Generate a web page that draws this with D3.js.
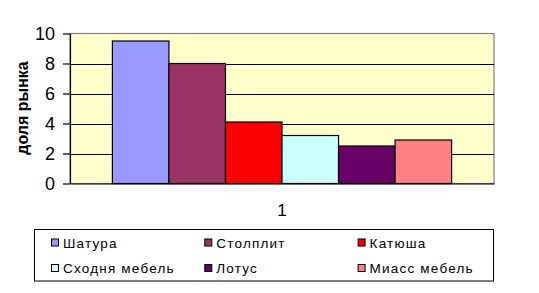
<!DOCTYPE html>
<html>
<head>
<meta charset="utf-8">
<script src="https://cdn.jsdelivr.net/npm/d3@7"></script>
<style>
  body { margin: 0; background: #fff; }
  text { font-family: "Liberation Sans", Arial, sans-serif; fill: #000; }
</style>
</head>
<body>
<svg id="chart" width="539" height="293"></svg>
<script>
// data
const categories = ['1']
const seriesNames = ['Шатура', 'Столплит', 'Катюша', 'Сходня мебель', 'Лотус', 'Миасс мебель']
const seriesValues = [9.5, 8.0, 4.1, 3.2, 2.5, 2.9]
const seriesColors = ['#9999FF', '#993366', '#FF0000', '#CCFFFF', '#660066', '#FF8080']
const yTicks = [0, 2, 4, 6, 8, 10]
const yTitle = 'доля рынка'

const svg = d3.select('#chart')

const plot = {left: 70, right: 494, top: 33.5, bottom: 183.5}

// y scale
const y = d3.scaleLinear()
    .domain([0, 10])
    .range([plot.bottom, plot.top])

// outer band for categories, inner band for the series
const x0 = d3.scaleBand()
    .domain(categories)
    .range([plot.left, plot.right])
    .paddingInner(0)
    .paddingOuter(0.125)

const x1 = d3.scaleBand()
    .domain(seriesNames)
    .range([0, x0.bandwidth()])

// plot background
svg.append('rect')
    .attr('x', plot.left)
    .attr('y', plot.top)
    .attr('width', plot.right - plot.left)
    .attr('height', plot.bottom - plot.top)
    .attr('fill', '#FFFFCC')
    .attr('stroke', '#808080')
    .attr('stroke-width', 1.2)

// gridlines
svg.append('g')
    .attr('transform', 'translate(' + plot.left + ',0)')
    .call(d3.axisLeft(y).tickValues(yTicks.filter(d => d > 0 && d < 10))
        .tickSize(-(plot.right - plot.left)).tickFormat(''))
    .call(g => g.select('.domain').remove())
    .call(g => g.selectAll('line').attr('stroke', '#000').attr('shape-rendering', 'crispEdges'))

// bars
svg.append('g')
    .selectAll('rect')
    .data(seriesNames.map((name, i) => ({name: name, value: seriesValues[i], color: seriesColors[i], cat: categories[0]})))
    .join('rect')
    .attr('x', d => x0(d.cat) + x1(d.name))
    .attr('y', d => y(d.value))
    .attr('width', x1.bandwidth())
    .attr('height', d => y(0) - y(d.value))
    .attr('fill', d => d.color)
    .attr('stroke', '#000')
    .attr('stroke-width', 1.2)

// y axis
svg.append('g')
    .attr('transform', 'translate(' + plot.left + ',0)')
    .call(d3.axisLeft(y).tickValues(yTicks).tickSize(7).tickPadding(8).tickSizeOuter(0))
    .call(g => g.select('.domain').attr('stroke', '#000').attr('stroke-width', 1.2))
    .call(g => g.selectAll('line').attr('stroke', '#000').attr('stroke-width', 1.2))
    .call(g => g.selectAll('text')
        .style('font-family', '"Liberation Sans", Arial, sans-serif')
        .style('font-size', '18px'))

// x axis label
svg.append('g')
    .attr('transform', 'translate(0,' + plot.bottom + ')')
    .call(d3.axisBottom(x0).tickSize(0).tickPadding(20))
    .call(g => g.select('.domain').attr('stroke', '#000').attr('stroke-width', 1.2))
    .call(g => g.selectAll('text')
        .style('font-family', '"Liberation Sans", Arial, sans-serif')
        .style('font-size', '17px'))

// y title
svg.append('text')
    .attr('transform', 'translate(28,108) rotate(-90)')
    .attr('text-anchor', 'middle')
    .style('font-size', '16px')
    .style('font-weight', 'bold')
    .text(yTitle)

// legend
const legend = svg.append('g')
legend.append('rect')
    .attr('x', 34.5)
    .attr('y', 229.5)
    .attr('width', 459)
    .attr('height', 51.5)
    .attr('fill', '#fff')
    .attr('stroke', '#000')

const item = legend.selectAll('g.item')
    .data(seriesNames)
    .join('g')
    .attr('class', 'item')
    .attr('transform', (d, i) => 'translate(' + (51 + (i % 3) * 153.3) + ',' + (242.5 + Math.floor(i / 3) * 25.5) + ')')

item.append('rect')
    .attr('x', 0.5)
    .attr('y', -3.5)
    .attr('width', 7)
    .attr('height', 7)
    .attr('fill', (d, i) => seriesColors[i])
    .attr('stroke', '#000')

item.append('text')
    .attr('x', 12)
    .attr('y', 5)
    .style('font-size', '13.5px')
    .style('letter-spacing', '1.2px')
    .text(d => d)
</script>
</body>
</html>
